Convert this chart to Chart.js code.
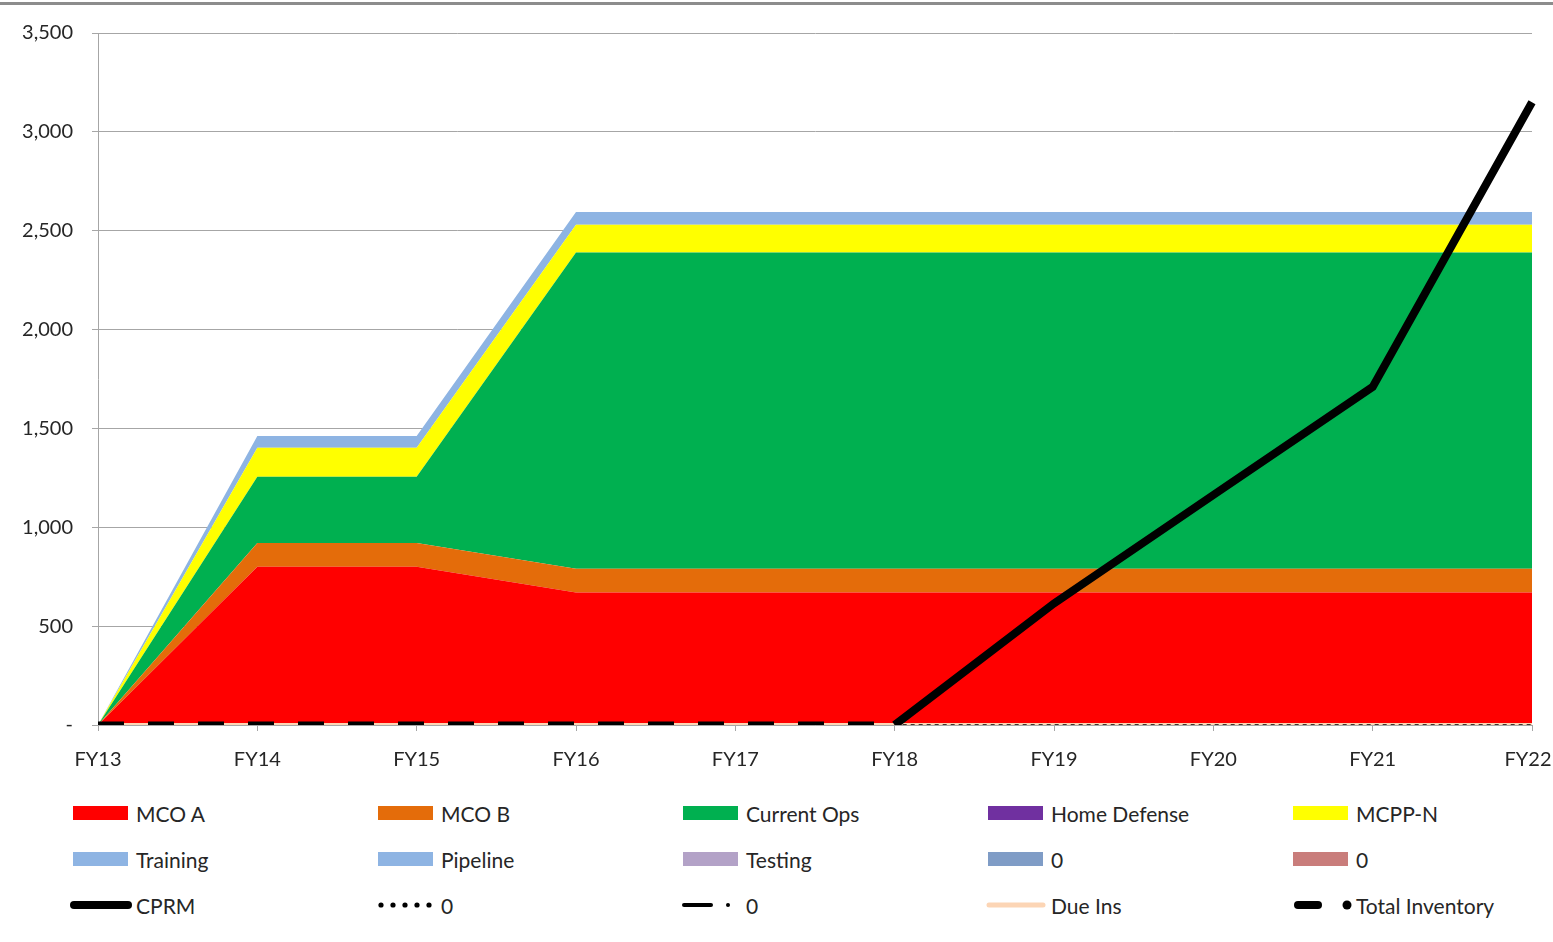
<!DOCTYPE html>
<html>
<head>
<meta charset="utf-8">
<script src="https://cdn.jsdelivr.net/npm/chart.js@4.4.1/dist/chart.umd.min.js"></script>
<style>
    body { margin: 0; background: #fff; }
    #wrap { position: relative; width: 1553px; height: 942px; background: #fff; overflow: hidden; }
    #topline { position: absolute; left: 0; top: 2px; width: 1553px; height: 3px; background: #8c8c8c; }
    #chartbox { position: absolute; left: 0; top: 0; width: 1575px; height: 790px; }
    .leg { position: absolute; height: 30px; display: flex; align-items: center;
           font-family: "Liberation Sans Narrow", Lato, sans-serif; font-size: 21px; color: #262626; white-space: nowrap; }
    .leg svg { margin-right: 4px; }
</style>
</head>
<body>
<div id="wrap">
    <div id="topline"></div>
    <div id="chartbox"><canvas id="inv-chart"></canvas></div>
    <div id="legend"></div>
</div>
<script>
const years = ['FY13', 'FY14', 'FY15', 'FY16', 'FY17', 'FY18', 'FY19', 'FY20', 'FY21', 'FY22'];

// stacked areas, bottom to top
const mcoA        = [0, 800, 800, 670, 670, 670, 670, 670, 670, 670];
const mcoB        = [0, 120, 120, 120, 120, 120, 120, 120, 120, 120];
const currentOps  = [0, 335, 335, 1600, 1600, 1600, 1600, 1600, 1600, 1600];
const homeDefense = [0, 0, 0, 0, 0, 0, 0, 0, 0, 0];
const mcppN       = [0, 147, 147, 140, 140, 140, 140, 140, 140, 140];
const training    = [0, 60, 60, 65, 65, 65, 65, 65, 65, 65];
const pipeline    = [0, 0, 0, 0, 0, 0, 0, 0, 0, 0];
const testing     = [0, 0, 0, 0, 0, 0, 0, 0, 0, 0];
const zeroA       = [0, 0, 0, 0, 0, 0, 0, 0, 0, 0];
const zeroB       = [0, 0, 0, 0, 0, 0, 0, 0, 0, 0];

// lines
const cprm           = [null, null, null, null, null, 0, 615, 1163, 1710, 3150];
const zeroDotted     = [null, null, null, null, null, 0, 0, 0, 0, 0];
const zeroDashDot    = [null, null, null, null, null, null, null, null, null, null];
const dueIns         = [0, 0, 0, 0, 0, 0, 0, 0, 0, 0];
const totalInventory = [0, 0, 0, 0, 0, 0, null, null, null, null];

const yTicks = [0, 500, 1000, 1500, 2000, 2500, 3000, 3500];

const fontFamily = '"Liberation Sans Narrow", Lato, sans-serif';
const textColor = '#262626';
const gridColor = '#a6a6a6';

const areaDefs = [
    { label: 'MCO A', data: mcoA, color: '#ff0000' },
    { label: 'MCO B', data: mcoB, color: '#e46c0a' },
    { label: 'Current Ops', data: currentOps, color: '#00b050' },
    { label: 'Home Defense', data: homeDefense, color: '#7030a0' },
    { label: 'MCPP-N', data: mcppN, color: '#ffff00' },
    { label: 'Training', data: training, color: '#8eb4e3' },
    { label: 'Pipeline', data: pipeline, color: '#8eb4e3' },
    { label: 'Testing', data: testing, color: '#b3a2c7' },
    { label: '0', data: zeroA, color: '#7f9cc6' },
    { label: '0', data: zeroB, color: '#c97d7b' }
];

const datasets = areaDefs.map((a, i) => ({
    label: a.label,
    data: a.data,
    stack: 'areas',
    fill: i === 0 ? 'origin' : '-1',
    backgroundColor: a.color,
    borderColor: a.color,
    borderWidth: 0,
    pointRadius: 0,
    tension: 0,
    order: 10
}));

datasets.push({
    label: 'Due Ins', data: dueIns, stack: 'l1', fill: false,
    borderColor: '#fcd5b5', borderWidth: 4, pointRadius: 0, order: 4
});
datasets.push({
    label: '0', data: zeroDotted, stack: 'l2', fill: false,
    borderColor: '#000', borderWidth: 1.5, borderDash: [4, 4], pointRadius: 0, order: 3
});
datasets.push({
    label: '0', data: zeroDashDot, stack: 'l3', fill: false,
    borderColor: '#000', borderWidth: 2, pointRadius: 0, order: 3
});
datasets.push({
    label: 'Total Inventory', data: totalInventory, stack: 'l4', fill: false,
    borderColor: '#000', borderWidth: 7, borderDash: [26, 24], pointRadius: 0, order: 2
});
datasets.push({
    label: 'CPRM', data: cprm, stack: 'l5', fill: false,
    borderColor: '#000', borderWidth: 8, pointRadius: 0, order: 1,
    borderJoinStyle: 'miter'
});

// keep the last x label inside the picture (it sits at the right edge)
const lastLabelNudge = {
    id: 'lastLabelNudge',
    beforeDraw(chart) {
        const items = chart.scales.x.getLabelItems(chart.chartArea);
        const last = items[items.length - 1];
        if (last && !last._nudged) {
            last.options.translation[0] -= 4;
            last._nudged = true;
        }
    }
};

new Chart(document.getElementById('inv-chart'), {
    type: 'line',
    data: { labels: years, datasets: datasets },
    plugins: [lastLabelNudge],
    options: {
        responsive: true,
        maintainAspectRatio: false,
        animation: false,
        layout: { padding: { top: 33, right: 43, left: 0, bottom: 0 } },
        plugins: {
            legend: { display: false },
            tooltip: { enabled: false }
        },
        scales: {
            x: {
                offset: false,
                grid: { drawOnChartArea: false, drawTicks: true, tickLength: 6, color: gridColor },
                border: { display: true, color: gridColor, width: 1 },
                ticks: {
                    color: textColor,
                    padding: 17,
                    maxRotation: 0,
                    font: { family: fontFamily, size: 20 }
                },
                afterFit: s => { s.height = 65; s.paddingLeft = 0; s.paddingRight = 0; }
            },
            y: {
                stacked: true,
                min: 0,
                max: 3500,
                afterBuildTicks: s => { s.ticks = yTicks.map(v => ({ value: v })); },
                grid: { color: gridColor, tickLength: 6, lineWidth: 1 },
                border: { display: true, color: gridColor, width: 1 },
                ticks: {
                    color: textColor,
                    padding: 19,
                    font: { family: fontFamily, size: 20 },
                    callback: v => v === 0 ? '-' : v.toLocaleString('en-US')
                },
                afterFit: s => { s.width = 98; s.paddingTop = 0; s.paddingBottom = 0; }
            }
        }
    }
});

// legend, 5 columns x 3 rows
const legendItems = [
    { text: 'MCO A', kind: 'box', color: '#ff0000' },
    { text: 'MCO B', kind: 'box', color: '#e46c0a' },
    { text: 'Current Ops', kind: 'box', color: '#00b050' },
    { text: 'Home Defense', kind: 'box', color: '#7030a0' },
    { text: 'MCPP-N', kind: 'box', color: '#ffff00' },
    { text: 'Training', kind: 'box', color: '#8eb4e3' },
    { text: 'Pipeline', kind: 'box', color: '#8eb4e3' },
    { text: 'Testing', kind: 'box', color: '#b3a2c7' },
    { text: '0', kind: 'box', color: '#7f9cc6' },
    { text: '0', kind: 'box', color: '#c97d7b' },
    { text: 'CPRM', kind: 'solid' },
    { text: '0', kind: 'dots' },
    { text: '0', kind: 'dashdot' },
    { text: 'Due Ins', kind: 'peach' },
    { text: 'Total Inventory', kind: 'dash' }
];

function swatch(item) {
    const w = 62, h = 20;
    let inner = '';
    if (item.kind === 'box') {
        inner = `<rect x="3" y="3" width="55" height="14" fill="${item.color}"/>`;
    } else if (item.kind === 'solid') {
        inner = `<line x1="4" y1="10" x2="58" y2="10" stroke="#000" stroke-width="8" stroke-linecap="round"/>`;
    } else if (item.kind === 'dots') {
        for (let i = 0; i < 5; i++) inner += `<circle cx="${6 + i * 12}" cy="10" r="2.6" fill="#000"/>`;
    } else if (item.kind === 'dashdot') {
        inner = `<line x1="4" y1="10" x2="31" y2="10" stroke="#000" stroke-width="4" stroke-linecap="round"/>` +
                `<circle cx="48" cy="10" r="2" fill="#000"/>`;
    } else if (item.kind === 'peach') {
        inner = `<line x1="4" y1="10" x2="58" y2="10" stroke="#fcd5b5" stroke-width="5" stroke-linecap="round"/>`;
    } else if (item.kind === 'dash') {
        inner = `<line x1="8" y1="10" x2="28" y2="10" stroke="#000" stroke-width="8" stroke-linecap="round"/>` +
                `<circle cx="57" cy="10" r="4.5" fill="#000"/>`;
    }
    return `<svg width="${w}" height="${h}">${inner}</svg>`;
}

const legend = document.getElementById('legend');
legendItems.forEach((item, i) => {
    const col = i % 5, row = Math.floor(i / 5);
    const el = document.createElement('div');
    el.className = 'leg';
    el.style.left = (70 + col * 305) + 'px';
    el.style.top = (798 + row * 46) + 'px';
    el.innerHTML = swatch(item) + '<span>' + item.text + '</span>';
    legend.appendChild(el);
});
</script>
</body>
</html>
